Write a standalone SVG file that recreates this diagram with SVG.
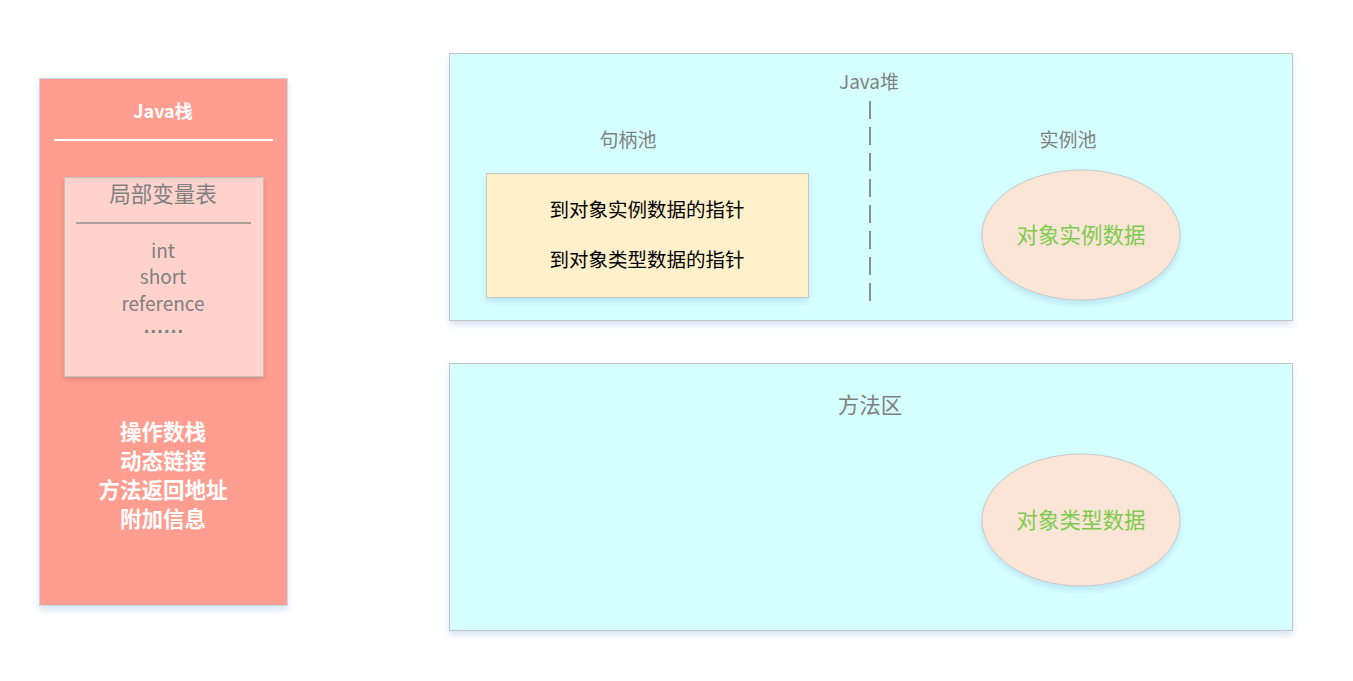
<svg xmlns="http://www.w3.org/2000/svg" width="1353" height="681" viewBox="0 0 1353 681">
<defs>
<filter id="sh" x="-20%" y="-20%" width="140%" height="140%">
<feDropShadow dx="0" dy="4" stdDeviation="3" flood-color="#8fb8e0" flood-opacity="0.35"/>
</filter>
<filter id="sh2" x="-20%" y="-20%" width="140%" height="140%">
<feDropShadow dx="0" dy="3" stdDeviation="3" flood-color="#a06060" flood-opacity="0.35"/>
</filter>
<style>
text{font-family:"Noto Sans CJK SC","Noto Sans",sans-serif;text-anchor:middle;dominant-baseline:central}
.region{fill:#D5FFFF;stroke:#c4c4c4;stroke-width:1}
.gray{fill:#808080}
.white{fill:#ffffff;font-weight:bold}
.ell{fill:#FBE5D6;stroke:#c8c8c8;stroke-width:1}
.green{fill:#7DCB4E;font-size:21.5px}
</style>
</defs>
<rect width="1353" height="681" fill="#ffffff"/>
<g id="java-stack">
<rect x="39.5" y="78.5" width="248" height="527" fill="#FF9E90" stroke="#c8d8e8" filter="url(#sh)"/>
<text x="163" y="110" class="white" font-size="18">Java栈</text>
<line x1="54" y1="140" x2="273" y2="140" stroke="#ffffff" stroke-width="2"/>
<text x="163" y="430" class="white" font-size="21.5">操作数栈</text>
<text x="163" y="459" class="white" font-size="21.5">动态链接</text>
<text x="163" y="488" class="white" font-size="21.5">方法返回地址</text>
<text x="163" y="517" class="white" font-size="21.5">附加信息</text>
</g>
<g id="local-vars">
<rect x="64.5" y="177.5" width="199" height="199" fill="#FFD2CB" stroke="#c0c0c0" filter="url(#sh2)"/>
<text x="163" y="192" class="gray" font-size="21.5">局部变量表</text>
<line x1="76" y1="223" x2="251" y2="223" stroke="#8c8c8c" stroke-width="1.5"/>
<text x="163" y="249" class="gray" font-size="19">int</text>
<text x="163" y="275" class="gray" font-size="19">short</text>
<text x="163" y="302" class="gray" font-size="19">reference</text>
<text x="164" y="333" fill="#808080" font-size="20" font-weight="bold" letter-spacing="1.2" style="font-family:'Liberation Sans',sans-serif;dominant-baseline:alphabetic">......</text>
</g>
<g id="java-heap">
<rect x="449.5" y="53.5" width="843" height="267" class="region" filter="url(#sh)"/>
<text x="869" y="80" class="gray" font-size="19">Java堆</text>
<line x1="870" y1="101" x2="870" y2="302" stroke="#8c8c8c" stroke-width="2" stroke-dasharray="18,8"/>
<text x="628" y="138" class="gray" font-size="19">句柄池</text>
<text x="1068" y="138" class="gray" font-size="19">实例池</text>
</g>
<g id="handle-pool">
<rect x="486.5" y="173.5" width="322" height="124" fill="#FFF0CC" stroke="#c8c8c8" filter="url(#sh)"/>
<text x="647" y="208" fill="#000000" font-size="19.5">到对象实例数据的指针</text>
<text x="647" y="258" fill="#000000" font-size="19.5">到对象类型数据的指针</text>
</g>
<g id="instance-data">
<ellipse cx="1081" cy="235" rx="99" ry="65" class="ell" filter="url(#sh)"/>
<text x="1081" y="233" class="green">对象实例数据</text>
</g>
<g id="method-area">
<rect x="449.5" y="363.5" width="843" height="267" class="region" filter="url(#sh)"/>
<text x="870" y="403" class="gray" font-size="21.5">方法区</text>
</g>
<g id="type-data">
<ellipse cx="1081" cy="520" rx="99" ry="66" class="ell" filter="url(#sh)"/>
<text x="1081" y="518" class="green">对象类型数据</text>
</g>
<g id="connectors"></g>
</svg>
